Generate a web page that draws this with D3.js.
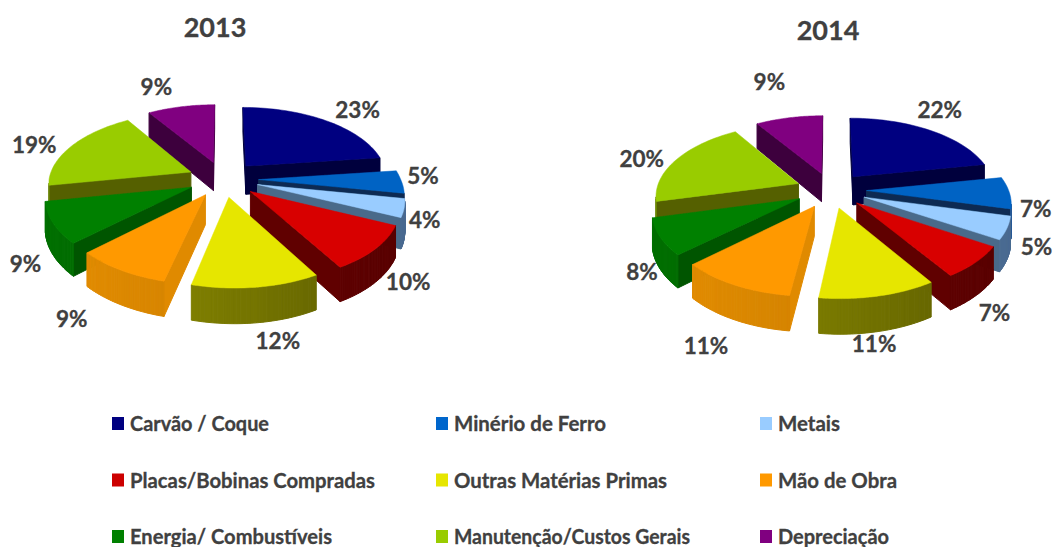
<!DOCTYPE html>
<html><head><meta charset="utf-8">
<script src="https://cdn.jsdelivr.net/npm/d3@7/dist/d3.min.js"></script>
<style>html,body{margin:0;padding:0;background:#fff}svg{display:block}text{font-family:Lato,"Open Sans",sans-serif;font-weight:700;fill:#404040;stroke:#404040;stroke-width:0.3px}</style>
</head><body><svg id="c" width="1056" height="547"><defs><filter id="soft" x="-5%" y="-5%" width="110%" height="110%"><feGaussianBlur stdDeviation="0.55"/></filter></defs></svg>
<script>
const categories = ["Carvão / Coque","Minério de Ferro","Metais","Placas/Bobinas Compradas","Outras Matérias Primas","Mão de Obra","Energia/ Combustíveis","Manutenção/Custos Gerais","Depreciação"];
const values2013 = [23,5,4,10,12,9,9,19,9];
const values2014 = [22,7,5,7,11,11,8,20,9];
const topColors  = ["#000080","#0563c4","#99ccff","#d80000","#e6e600","#ff9900","#008000","#99cc00","#800080"];
const sideColors = ["#00003e","#0a2a52","#4a6a8a","#600000","#8a8a00","#e08a00","#005500","#556000","#3e003e"];
const rimLeft    = ["#00005a","#2f66a8","#5f86b0","#6e0000","#949400","#e68e00","#007000","#6a8500","#500050"];
const rimRight   = ["#000050","#2a5a96","#4a6a90","#580000","#5a5a00","#c07800","#005c00","#5a7000","#400040"];
const legendColors = ["#000080","#0066cc","#99ccff","#cc0000","#e6e600","#ff9900","#008000","#99cc00","#800080"];
const legendTextWidths = [139,152,62,245,213,119,202,236,111];
// label nudges (px) relative to the projected label anchor
const nudge2013 = [[12,0],[-19,-7],[-23,4],[-8,14],[12,22],[-20,23],[15,29],[-6,5],[-17,-7]];
const nudge2014 = [[-9,-9],[-14,15],[-14,9],[-20,31],[-18,17],[-1,34],[25,23],[-3,5],[-12,-23]];

const R = 142, RK = 71, P = 0.15, DEPTH = 29, EXPLODE = 0.25, LABEL_R = 1.28;
const svg = d3.select("#c");
const line = d3.line();
const pieLayout = d3.pie().sort(null).value(d => d);

function drawPie(values, cx, cy, skew, title, titleX, titleY, titleSize, nudges) {
  const project = (u, v, z = 0) => {
    const s = 1 / (1 + P * v);
    return [cx + R * u * s + skew * Math.max(0, -v), cy - RK * v * s + z * DEPTH * s];
  };
  const arcs = pieLayout(values).map((d, i) => ({...d, i, mid: (d.startAngle + d.endAngle) / 2}));
  const shade = d3.scaleLinear().domain([-1, 1]);
  const order = arcs.slice().sort((a, b) => Math.cos(b.mid) - Math.cos(a.mid));
  const g = svg.append("g").attr("filter", "url(#soft)");

  order.forEach(d => {
    const ex = EXPLODE * Math.sin(d.mid), ey = EXPLODE * Math.cos(d.mid);
    const rim = a => [ex + Math.sin(a), ey + Math.cos(a)];
    const steps = d3.range(0, 41).map(k => d.startAngle + (d.endAngle - d.startAngle) * k / 40);
    const sg = g.append("g");
    const wall = (p1, p2, fill) => {
      const poly = [project(p1[0], p1[1]), project(p2[0], p2[1]), project(p2[0], p2[1], 1), project(p1[0], p1[1], 1)];
      if (d3.polygonArea(poly) >= 0) {
        sg.append("path").attr("d", line(poly) + "Z").attr("fill", fill).attr("stroke", fill).attr("stroke-width", 1);
      }
    };
    const apex = [ex, ey];
    wall(apex, rim(d.startAngle), sideColors[d.i]);
    wall(rim(d.endAngle), apex, sideColors[d.i]);
    const col = shade.copy().range([rimLeft[d.i], rimRight[d.i]]);
    d3.pairs(steps).forEach(([a, b]) => wall(rim(a), rim(b), col(Math.sin((a + b) / 2))));
    const outline = [apex, ...steps.map(rim)].map(p => project(p[0], p[1]));
    sg.append("path").attr("d", line(outline) + "Z").attr("fill", topColors[d.i])
      .attr("stroke", topColors[d.i]).attr("stroke-width", 0.5);
  });

  arcs.forEach(d => {
    const ex = EXPLODE * Math.sin(d.mid), ey = EXPLODE * Math.cos(d.mid);
    const p = project(ex + LABEL_R * Math.sin(d.mid), ey + LABEL_R * Math.cos(d.mid));
    svg.append("text").attr("x", p[0] + nudges[d.i][0]).attr("y", p[1] + nudges[d.i][1])
      .attr("text-anchor", "middle").attr("dominant-baseline", "central")
      .attr("font-size", 22.5).text(d.data + "%");
  });

  svg.append("text").attr("x", titleX).attr("y", titleY).attr("text-anchor", "middle")
    .attr("font-size", titleSize).text(title);
}

drawPie(values2013, 223, 179, 5, "2013", 215, 37, 27, nudge2013);
drawPie(values2014, 831, 190, 0, "2014", 828, 40, 27, nudge2014);

const colX = d3.scalePoint().domain([0,1,2]).range([112,760]);
const rowY = d3.scalePoint().domain([0,1,2]).range([417,530]);
categories.forEach((c, i) => {
  const x = colX(i % 3), y = rowY(Math.floor(i / 3));
  svg.append("rect").attr("x", x).attr("y", y).attr("width", 12).attr("height", 13).attr("fill", legendColors[i]);
  svg.append("text").attr("x", x + 18).attr("y", y + 6).attr("dominant-baseline", "central")
    .attr("font-size", 20.3).attr("textLength", legendTextWidths[i]).attr("lengthAdjust", "spacingAndGlyphs").text(c);
});
</script></body></html>
